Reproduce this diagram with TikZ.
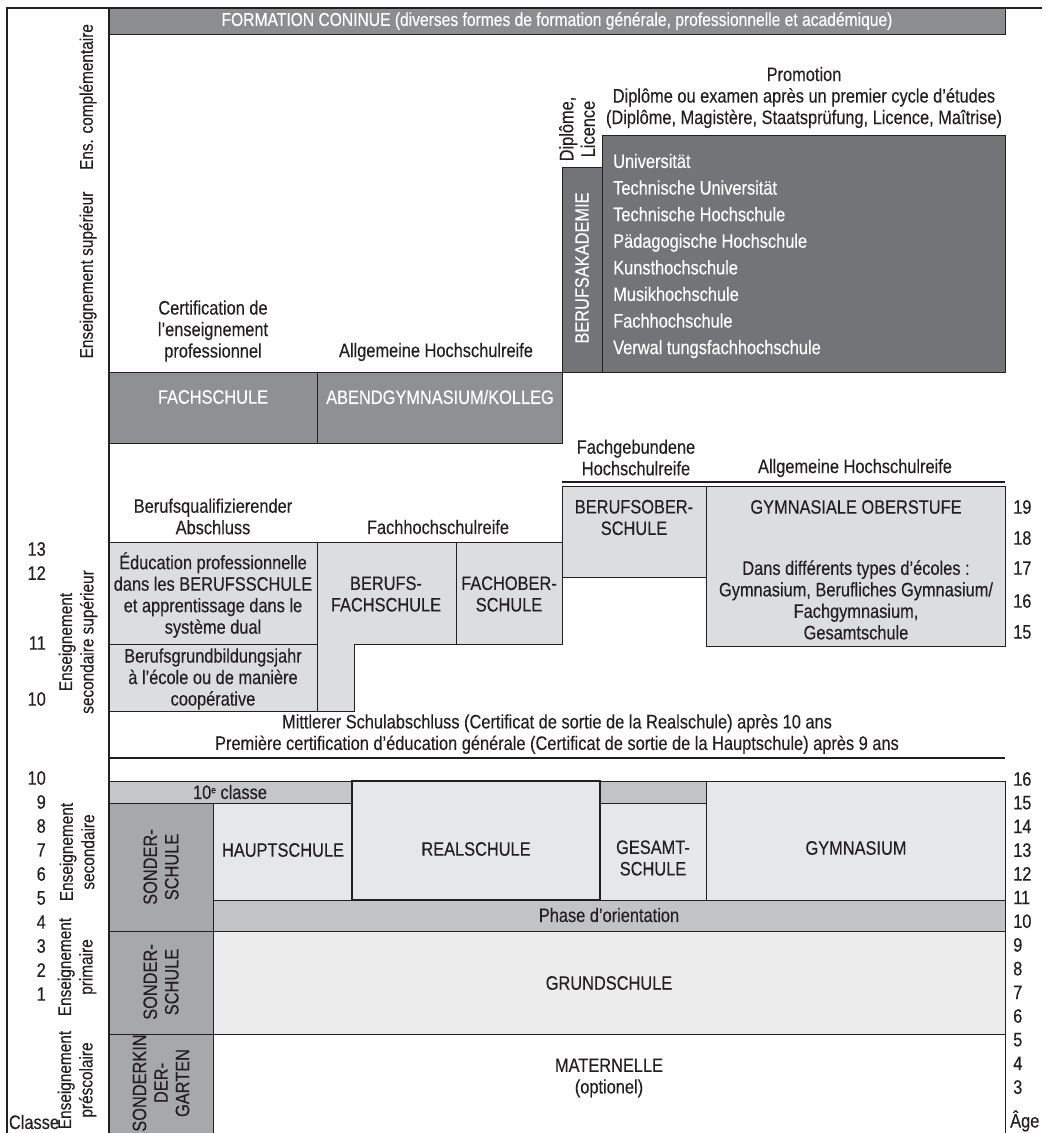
\documentclass[tikz,border=0pt]{standalone}
\usepackage{fontspec}
\setmainfont{Liberation Sans}[FakeStretch=0.84,FakeBold=0.25]
\definecolor{ink}{HTML}{231F20}
\definecolor{bandgray}{HTML}{8C8D90}
\definecolor{unigray}{HTML}{737477}
\definecolor{fachgray}{HTML}{8F9093}
\definecolor{midlight}{HTML}{DCDDDF}
\definecolor{tenthgray}{HTML}{C5C6C8}
\definecolor{sondergray}{HTML}{A7A8AB}
\definecolor{lightbox}{HTML}{E6E7E8}
\definecolor{phasegray}{HTML}{C2C3C5}
\definecolor{grundgray}{HTML}{ECECED}
\newcommand\myfs{\fontsize{19.5}{21.5}\selectfont}
\newcommand\lblfs{\fontsize{18.3}{21.5}\selectfont}
\newcommand\bx[6]{\node[boxst, fill=#6, minimum width={(#4-#2)*1pt}, minimum height={(#5-#3)*1pt}, anchor=north west] (#1) at (#2,#3) {};}
\tikzset{
  boxst/.style={draw=ink, line width=1pt, inner sep=0pt, outer sep=0pt},
  tx/.style={text=ink, align=center, inner sep=0pt, font=\myfs},
  wtx/.style={text=white, align=center, inner sep=0pt, font=\myfs},
  sidelbl/.style={text=ink, align=center, inner sep=0pt, font=\lblfs, rotate=90},
  frameline/.style={draw=ink, line width=1.5pt},
  thickline/.style={draw=ink, line width=2.2pt},
}
\begin{document}
\begin{tikzpicture}[x=1pt,y=-1pt]
\useasboundingbox (0,0) rectangle (1042,1133);
% ---------- upper: continuing education and higher education
\bx{band}{109}{8}{1005}{34}{bandgray}
\node[wtx, font=\fontsize{18.6}{21.5}\selectfont] (bandtxt) at (557,21) {FORMATION CONINUE (diverses formes de formation générale, professionnelle et académique)};
\node[sidelbl] (enscompl) at (88,97) {Ens. complémentaire};
\node[sidelbl] (enssup) at (88,275) {Enseignement supérieur};
\node[tx] (promo) at (804,97.5) {Promotion\\Diplôme ou examen après un premier cycle d’études\\(Diplôme, Magistère, Staatsprüfung, Licence, Maîtrise)};
\node[tx, rotate=90] (diplic) at (577,129) {Diplôme,\\Licence};
\bx{berufsak}{562}{167}{602}{372}{unigray}
\node[wtx, rotate=90] (berufsaktxt) at (582,268) {BERUFSAKADEMIE};
\bx{uni}{602}{135}{1005}{372}{unigray}
\node[wtx, align=left, anchor=west, font=\fontsize{19.5}{26.6}\selectfont] (unilist) at (613,256) {Universität\\Technische Universität\\Technische Hochschule\\Pädagogische Hochschule\\Kunsthochschule\\Musikhochschule\\Fachhochschule\\Verwal tungsfachhochschule};
\node[tx] (certif) at (213,331) {Certification de\\l’enseignement\\professionnel};
\node[tx] (allg1) at (436,352) {Allgemeine Hochschulreife};
\bx{fachschule}{109}{372}{317}{443}{fachgray}
\node[wtx] (fachschuletxt) at (213,397) {FACHSCHULE};
\bx{abend}{317}{372}{562}{443}{fachgray}
\node[wtx] (abendtxt) at (440,397) {ABENDGYMNASIUM/KOLLEG};
% ---------- upper secondary
\node[tx] (berufsq) at (213,516.5) {Berufsqualifizierender\\Abschluss};
\node[tx] (fhr) at (438,527) {Fachhochschulreife};
\node[tx] (fachgeb) at (636,457.5) {Fachgebundene\\Hochschulreife};
\node[tx] (allg2) at (855,468) {Allgemeine Hochschulreife};
\coordinate (l1a) at (562,482);
\coordinate (l1b) at (1005,482);
\draw[thickline] (l1a) -- (l1b);
\bx{educ}{109}{542}{317}{644}{midlight}
\node[tx] (eductxt) at (213,595) {Éducation professionnelle\\dans les BERUFSSCHULE\\et apprentissage dans le\\système dual};
\bx{bgj}{109}{644}{317}{711}{midlight}
\node[tx] (bgjtxt) at (213,679) {Berufsgrundbildungsjahr\\à l’école ou de manière\\coopérative};
\draw[boxst, fill=midlight] (317,542) -- (456,542) -- (456,644) -- (354,644) -- (354,711) -- (317,711) -- cycle;
\node[tx] (bfstxt) at (386,594) {BERUFS-\\FACHSCHULE};
\bx{fos}{456}{542}{562}{644}{midlight}
\node[tx] (fostxt) at (509,594) {FACHOBER-\\SCHULE};
\bx{bos}{562}{486}{706}{577}{midlight}
\node[tx] (bostxt) at (634,517.5) {BERUFSOBER-\\SCHULE};
\bx{gos}{706}{486}{1005}{646}{midlight}
\node[tx] (gostxt) at (856,507) {GYMNASIALE OBERSTUFE};
\node[tx] (gosdetail) at (856,600) {Dans différents types d’écoles :\\Gymnasium, Berufliches Gymnasium/\\Fachgymnasium,\\Gesamtschule};
\node[tx, anchor=east] (c13) at (46,549) {13};
\node[tx, anchor=east] (c12) at (46,573) {12};
\node[tx, anchor=east] (c11) at (46,643) {11};
\node[tx, anchor=east] (c10a) at (46,699) {10};
\node[sidelbl] (secsup) at (78,642) {Enseignement\\secondaire supérieur};
\node[tx, anchor=west] (a19) at (1013,507) {19};
\node[tx, anchor=west] (a18) at (1013,538) {18};
\node[tx, anchor=west] (a17) at (1013,568) {17};
\node[tx, anchor=west] (a16a) at (1013,601) {16};
\node[tx, anchor=west] (a15a) at (1013,632) {15};
\node[tx] (mittl) at (557,734) {Mittlerer Schulabschluss (Certificat de sortie de la Realschule) après 10 ans\\Première certification d’éducation générale (Certificat de sortie de la Hauptschule) après 9 ans};
\coordinate (l2a) at (109,758);
\coordinate (l2b) at (1005,758);
\draw[thickline] (l2a) -- (l2b);
% ---------- lower: primary, secondary I, pre-school
\bx{tenth}{109}{781}{352}{803}{tenthgray}
\node[tx] (tenthtxt) at (230,792) {10\raisebox{0.55ex}{\fontsize{10}{10}\selectfont e} classe};
\bx{sonder1}{109}{803}{213}{931}{sondergray}
\node[tx, rotate=90] (sonder1txt) at (161,867) {SONDER-\\SCHULE};
\bx{haupt}{213}{803}{352}{900}{lightbox}
\node[tx] (haupttxt) at (283,850) {HAUPTSCHULE};
\bx{gesamttop}{600}{781}{706}{803}{phasegray}
\bx{gesamt}{600}{803}{706}{900}{lightbox}
\node[tx] (gesamttxt) at (653,858) {GESAMT-\\SCHULE};
\bx{gym}{706}{781}{1005}{900}{lightbox}
\node[tx] (gymtxt) at (856,848) {GYMNASIUM};
\bx{phase}{213}{900}{1005}{931}{phasegray}
\node[tx] (phasetxt) at (609,915) {Phase d’orientation};
\bx{sonder2}{109}{931}{213}{1034}{sondergray}
\node[tx, rotate=90] (sonder2txt) at (161,982) {SONDER-\\SCHULE};
\bx{grund}{213}{931}{1005}{1034}{grundgray}
\node[tx] (grundtxt) at (609,983) {GRUNDSCHULE};
\bx{sonderkg}{109}{1034}{213}{1140}{sondergray}
\node[tx, rotate=90] (sonderkgtxt) at (161,1083) {SONDERKIN\\DER-\\GARTEN};
\coordinate (rb1) at (1005,1034);
\coordinate (rb2) at (1005,1133);
\draw[boxst] (rb1) -- (rb2);
\node[tx] (matern) at (609,1078) {MATERNELLE\\(optionel)};
\node[draw=ink, line width=2pt, fill=lightbox, inner sep=0pt, outer sep=0pt, minimum width=248pt, minimum height=119pt, anchor=north west] (real) at (352,781) {};
\node[tx] (realtxt) at (476,849) {REALSCHULE};
\foreach \n [count=\k from 0] in {10,9,8,7,6,5,4,3,2,1}
  \node[tx, anchor=east] (cl\n) at (46,778+\k*24) {\n};
\node[tx] (classe) at (34,1122) {Classe};
\node[sidelbl] (ensec) at (77,852) {Enseignement\\secondaire};
\node[sidelbl] (enprim) at (77,967) {Enseignement\\primaire};
\node[sidelbl] (enpre) at (77,1080) {Enseignement\\préscolaire};
\foreach \n [count=\k from 0] in {16,15,14,13,12,11,10,9,8,7,6,5,4,3}
  \node[tx, anchor=west] (age\n) at (1013,779+\k*23.7) {\n};
\node[tx, anchor=west] (agelbl) at (1010,1121) {Âge};
% ---------- frame
\coordinate (f1) at (7,1133);
\coordinate (f2) at (7,8);
\coordinate (f3) at (1042,8);
\draw[frameline] (f1) -- (f2) -- (f3);
\coordinate (g1) at (109,8);
\coordinate (g2) at (109,1133);
\draw[draw=ink, line width=2.6pt] (g1) -- (g2);
\end{tikzpicture}
\end{document}
